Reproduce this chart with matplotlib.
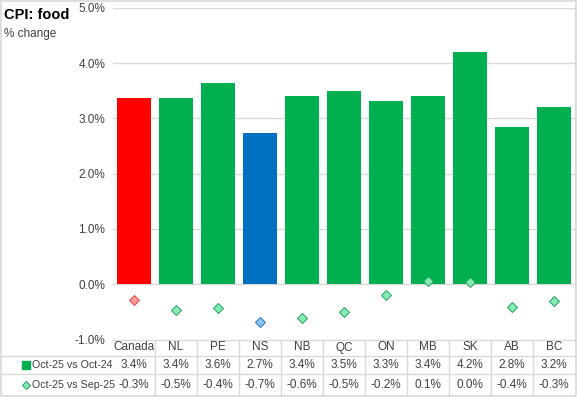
"""
CPI: food -- variación anual (barras) y mensual (rombos) por provincia, con tabla de datos.
Salida: out.png
"""

import matplotlib
matplotlib.use("Agg")
import matplotlib.pyplot as plt
import matplotlib.ticker as ticker
import numpy as np

REGIONS = ["Canada", "NL", "PE", "NS", "NB", "QC", "ON", "MB", "SK", "AB", "BC"]
YOY = [3.37, 3.37, 3.64, 2.73, 3.41, 3.50, 3.31, 3.41, 4.20, 2.84, 3.21]
MOM = [-0.29, -0.46, -0.43, -0.69, -0.61, -0.51, -0.20, 0.06, 0.04, -0.42, -0.31]
SERIES_NAMES = ["Oct-25 vs Oct-24", "Oct-25 vs Sep-25"]

BAR_COLORS = ["#FF0000"] + ["#00B050"] * 2 + ["#0070C0"] + ["#00B050"] * 7
DIA_FILL = ["#FF9A9A"] + ["#86EBB2"] * 2 + ["#8CC4F2"] + ["#86EBB2"] * 7
DIA_EDGE = ["#E04848"] + ["#1FA060"] * 2 + ["#2A72B8"] + ["#1FA060"] * 7

TXT = "#404040"
GRID = "#D9D9D9"
plt.rcParams["font.family"] = ["Liberation Sans", "DejaVu Sans"]

W, H = 577, 397
fig = plt.figure(figsize=(W / 100, H / 100), dpi=100)

# plot area in pixels
x0, x1 = 113, 575
y_top, y_bot = 7.75, 339.5
ax = fig.add_axes([x0 / W, 1 - y_bot / H, (x1 - x0) / W, (y_bot - y_top) / H])

x = np.arange(len(REGIONS))
ax.bar(x, YOY, width=0.83, color=BAR_COLORS, zorder=2)
for xi, v, fc, ec in zip(x, MOM, DIA_FILL, DIA_EDGE):
    ax.plot(xi, v, marker="D", markersize=5, markerfacecolor=fc,
            markeredgecolor=ec, markeredgewidth=0.7, linestyle="none", zorder=3)

ax.set_xlim(-0.5, len(REGIONS) - 0.5)
ax.set_ylim(-1, 5)
ax.set_yticks(np.arange(-1, 6, 1))
ax.yaxis.set_major_formatter(ticker.FuncFormatter(lambda v, _: f"{v:.1f}%"))
ax.set_xticks([])
ax.grid(axis="y", color=GRID, linewidth=1, zorder=0)
ax.tick_params(axis="y", length=0, pad=5.5, labelsize=8.5, labelcolor=TXT)
for s in ["top", "left", "bottom"]:
    ax.spines[s].set_visible(False)
ax.spines["right"].set_color(GRID)

# overlay in pixel coordinates for title, border and data table
ov = fig.add_axes([0, 0, 1, 1], zorder=-1)
ov.set_xlim(0, W)
ov.set_ylim(H, 0)
ov.axis("off")

ov.text(4, 15, "CPI: food", fontsize=10.5, fontweight="bold", color="black", va="center")
ov.text(4, 34, "% change", fontsize=8.5, color=TXT, va="center")

# chart border
ov.plot([0.8, W - 1.5, W - 1.5, 0.8, 0.8], [1, 1, H - 1, H - 1, 1], color=GRID, lw=1.2)

col_w = (x1 - x0) / len(REGIONS)
rows = [339.5, 355.5, 374, 395]
ov.plot([x0, x1], [rows[0]] * 2, color=GRID, lw=1)
for ry in rows[1:3]:
    ov.plot([0, x1], [ry, ry], color=GRID, lw=1)
for i in range(1, len(REGIONS)):
    ov.plot([x0 + i * col_w] * 2, [rows[0], rows[-1]], color=GRID, lw=1)

for i, r in enumerate(REGIONS):
    cx = x0 + (i + 0.5) * col_w
    ov.text(cx, (rows[0] + rows[1]) / 2, r, ha="center", va="center", fontsize=8.5, color=TXT)
    ov.text(cx, (rows[1] + rows[2]) / 2, f"{YOY[i]:.1f}%", ha="center", va="center",
            fontsize=8.5, color=TXT)
    ov.text(cx, (rows[2] + rows[3]) / 2, f"{MOM[i]:.1f}%", ha="center", va="center",
            fontsize=8.5, color=TXT)

r1 = (rows[1] + rows[2]) / 2
r2 = (rows[2] + rows[3]) / 2
ov.plot(26, r1, marker="s", markersize=6, color="#00B050", linestyle="none")
ov.plot(26, r2, marker="D", markersize=4.5, markerfacecolor="#86EBB2",
        markeredgecolor="#1FA060", markeredgewidth=0.7, linestyle="none")
ov.text(32, r1, SERIES_NAMES[0], ha="left", va="center", fontsize=7.7, color=TXT)
ov.text(32, r2, SERIES_NAMES[1], ha="left", va="center", fontsize=7.7, color=TXT)

fig.savefig("out.png", dpi=100)
plt.close(fig)
